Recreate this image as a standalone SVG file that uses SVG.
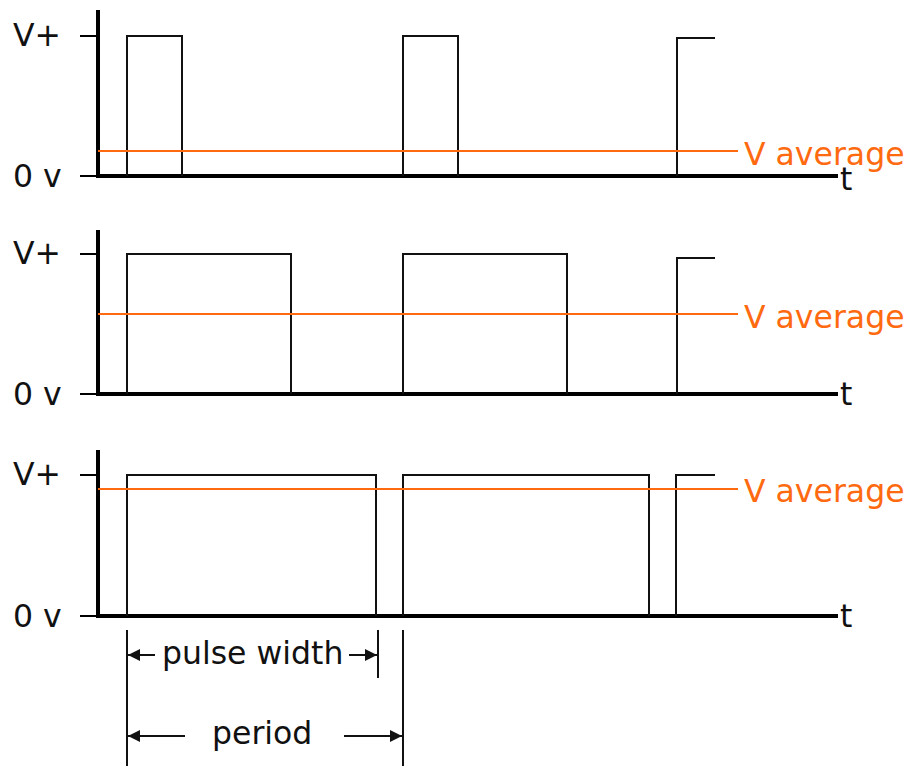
<svg xmlns="http://www.w3.org/2000/svg" width="909" height="766" viewBox="0 0 909 766">
<style>
.ax{stroke:#000;stroke-width:4;fill:none}
.tk{stroke:#000;stroke-width:2;fill:none}
.sig{stroke:#111;stroke-width:2;fill:none}
.avg{stroke:#ff6a10;stroke-width:2;fill:none}
.lbl{font-family:"DejaVu Sans",Verdana,sans-serif;font-size:31.5px;fill:#111}
.olbl{font-family:"DejaVu Sans",Verdana,sans-serif;font-size:31.5px;fill:#ff6a10}
.dim{stroke:#111;stroke-width:2;fill:none}
</style>
<defs>
<marker id="ah" viewBox="0 0 12 12" refX="12" refY="6" markerWidth="12" markerHeight="12" markerUnits="userSpaceOnUse" orient="auto">
<path d="M0,0 L12,6 L0,12 z" fill="#111"/>
</marker>
</defs>
<g id="panel1">
<path class="ax" d="M98,10 V176 H838"/>
<path class="tk" d="M80,36 H98 M80,176 H98"/>
<path class="sig" d="M127,176 V36 H182 V176 M403,176 V36 H458 V176 M677,176 V38 H715"/>
<path class="avg" d="M98,151 H738"/>
<text class="lbl" x="13" y="46">V+</text>
<text class="lbl" x="13" y="187">0 v</text>
<text class="olbl" x="744" y="165">V average</text>
<text class="lbl" x="840" y="190">t</text>
</g>
<g id="panel2">
<path class="ax" d="M98,230 V394 H838"/>
<path class="tk" d="M80,254 H98 M80,394 H98"/>
<path class="sig" d="M127,394 V254 H291 V394 M403,394 V254 H567 V394 M677,394 V258 H715"/>
<path class="avg" d="M98,314 H738"/>
<text class="lbl" x="13" y="264">V+</text>
<text class="lbl" x="13" y="405">0 v</text>
<text class="olbl" x="744" y="328">V average</text>
<text class="lbl" x="840" y="405">t</text>
</g>
<g id="panel3">
<path class="ax" d="M98,450 V616 H838"/>
<path class="tk" d="M80,475 H98 M80,616 H98"/>
<path class="sig" d="M127,616 V475 H376 V616 M403,616 V475 H649 V616 M676,616 V475 H715"/>
<path class="avg" d="M98,489 H738"/>
<text class="lbl" x="13" y="485">V+</text>
<text class="lbl" x="13" y="627">0 v</text>
<text class="olbl" x="744" y="502">V average</text>
<text class="lbl" x="840" y="627">t</text>
</g>
<g id="connectors">
<path class="dim" d="M127,630 V766 M378,630 V678 M403,630 V766"/>
<path class="dim" d="M155,655 H128" marker-end="url(#ah)"/>
<path class="dim" d="M349,655 H377" marker-end="url(#ah)"/>
<path class="dim" d="M185,736 H128" marker-end="url(#ah)"/>
<path class="dim" d="M344,736 H402" marker-end="url(#ah)"/>
</g>
<g id="labels">
<text class="lbl" x="162" y="664">pulse width</text>
<text class="lbl" x="212" y="744">period</text>
</g>
</svg>
